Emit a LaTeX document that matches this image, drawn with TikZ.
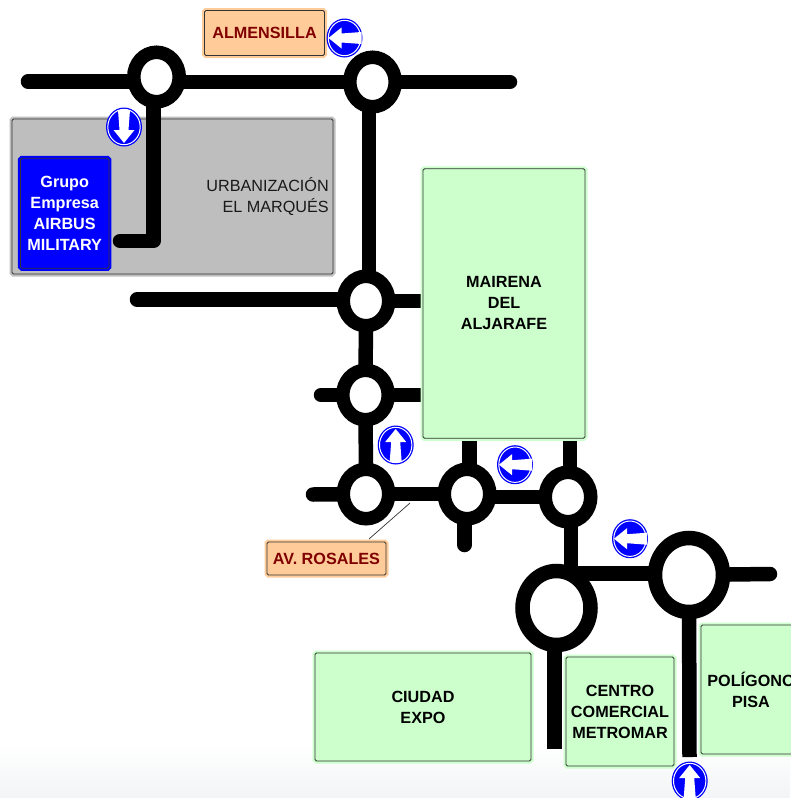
\documentclass[tikz,border=0pt]{standalone}
\usepackage{fontspec}
\setmainfont{Liberation Sans}
\usetikzlibrary{shapes.geometric}
\pgfdeclarelayer{greylayer}
\pgfdeclarelayer{roadlayer}
\pgfsetlayers{greylayer,roadlayer,main}
\definecolor{halo}{HTML}{CCFFCC}
\definecolor{peachc}{HTML}{FFCC99}
\definecolor{greyc}{HTML}{BEBEBE}
\definecolor{darkred}{HTML}{800000}
\definecolor{signblue}{HTML}{0000FF}
\definecolor{fadec}{HTML}{F2F4F5}
\tikzset{
  x=1pt,y=-1pt,
  txt/.style={font=\fontsize{16.2}{21}\selectfont,align=center,inner sep=0pt},
  boxed/.style args={#1/#2}{rectangle,draw=black!80,line width=0.8pt,fill=#1,
    rounded corners=1.5pt,inner sep=0pt,outer sep=0pt,align=center,
    font=\bfseries\fontsize{16.2}{21}\selectfont,
    preaction={draw=#2,line width=5pt,rounded corners=0pt}},
  greenbox/.style={boxed={halo/halo},text=black},
  orangebox/.style={boxed={peachc/peachc},text=darkred},
  bluebox/.style={boxed={signblue/signblue},text=white},
  greybox/.style={boxed={greyc/greyc}},
  round/.style={ellipse,draw=black,fill=white,line width=13.5pt,inner sep=0pt,outer sep=0pt,
     minimum width=45.5pt,minimum height=49.5pt},
  biground/.style={round,line width=14.5pt,minimum width=68pt,minimum height=74pt},
  road/.style={draw=black,line width=14.5pt},
  roadend/.style={road,line cap=round},
  roadsign/.pic={
    \fill[signblue] (0,0) ellipse [x radius=18,y radius=19.5];
    \draw[white,line width=1pt] (0,0) ellipse [x radius=16.2,y radius=17.7];
    \fill[white,rotate=#1] (-16,0) -- (-3,-10.5) -- (-3,-4.5) -- (17,-6) -- (17,6) -- (-3,4.5) -- (-3,10.5) -- cycle;
  },
}
\begin{document}
\begin{tikzpicture}
\useasboundingbox (0,0) rectangle (790,798);

% areas
\begin{pgfonlayer}{greylayer}
  \shade[top color=white,bottom color=fadec] (0,745) rectangle (790,798);
  \node[greybox,minimum width=321pt,minimum height=155pt] (marques) at (172.5,196.5) {};
\end{pgfonlayer}
\node[txt,align=right,anchor=east,text=black!90] (marqueslabel) at (329,197) {URBANIZACIÓN\\EL MARQUÉS};
\node[bluebox,minimum width=88.5pt,minimum height=110pt] (airbus) at (64.7,213.3) {Grupo\\Empresa\\AIRBUS\\MILITARY};
\node[orangebox,minimum width=120pt,minimum height=45pt] (almensilla) at (264.5,33) {ALMENSILLA};
\node[greenbox,minimum width=162pt,minimum height=269.5pt] (mairena) at (504,303.5) {MAIRENA\\DEL\\ALJARAFE};
\node[orangebox,minimum width=119pt,minimum height=33pt] (rosales) at (326.5,558.5) {AV. ROSALES};
\node[greenbox,minimum width=216pt,minimum height=108pt] (expo) at (423,707) {CIUDAD\\EXPO};
\node[greenbox,minimum width=108pt,minimum height=109pt] (metromar) at (620,711.5) {CENTRO\\COMERCIAL\\METROMAR};
\node[greenbox,minimum width=100pt,minimum height=129pt] (pisa) at (751,689.5) {POLÍGONO\\PISA};

% roundabouts
\node[round] (r1) at (156.5,77) {};
\node[round] (r2) at (372.5,82) {};
\node[round] (r3) at (366,301) {};
\node[round] (r4) at (365.5,395) {};
\node[round] (r5) at (366,494) {};
\node[round] (r6) at (467,494) {};
\node[round] (r7) at (568,497) {};
\node[biground] (r8) at (556.5,608) {};
\node[biground] (r9) at (689,575) {};

% free road ends
\coordinate (w1) at (28,81.5);
\coordinate (e2) at (510,82);
\coordinate (elbow) at (153.5,241);
\coordinate (toairbus) at (120,241);
\coordinate (w3) at (137,299.5);
\coordinate (w4) at (321,395);
\coordinate (w5) at (313,494.5);
\coordinate (s6) at (464.5,545);
\coordinate (e9) at (770,574);
\coordinate (s8) at (554.5,749);
\coordinate (s9) at (689.5,757);
\coordinate (leaderend) at (410,503);

\begin{pgfonlayer}{roadlayer}
  \draw[roadend] (w1) -- (w1 -| r1.center);
  \draw[road] ([yshift=-5pt]r1.center) -- (r2.center);
  \draw[roadend] (r2.center) -- (e2);
  \draw[roadend,line join=round] (r1.center -| elbow) -- (elbow) -- (toairbus);
  \draw[road] ([xshift=-3.5pt]r2.center) -- ([xshift=3pt]r3.center);
  \draw[roadend] (w3) -- (w3 -| r3.center);
  \draw[road] (r3.center) -- (mairena.west |- r3.center);
  \draw[road] (r3.center) -- (r4.center);
  \draw[roadend] (w4) -- (r4.center);
  \draw[road] (r4.center) -- (mairena.west |- r4.center);
  \draw[road] (r4.center) -- (r5.center);
  \draw[roadend] (w5) -- (r5.center);
  \draw[road] (r5.center) -- (r6.center);
  \draw[road] ([yshift=-3pt]r6.center) -- (r7.center);
  \draw[road] ([xshift=2.5pt]r6.center) -- ([xshift=2.5pt]r6.center |- mairena.south);
  \draw[roadend] ([xshift=-2.5pt]r6.center) -- (s6);
  \draw[road] ([xshift=2pt]r7.center) -- ([xshift=2pt]r7.center |- mairena.south);
  \draw[road] ([xshift=3pt]r7.center) -- ([xshift=3pt]r7.center |- r8.center);
  \draw[road] ([yshift=34.5pt]r8.center) -- ([yshift=1.5pt]r9.center);
  \draw[roadend] (r9.center) -- (e9);
  \draw[road] ([xshift=-2pt]r8.center) -- (s8);
  \draw[road] (r9.center) -- (s9);
\end{pgfonlayer}
\draw[black!80,line width=0.7pt] (369,539) -- (leaderend);

% direction signs
\pic at (344.5,38) {roadsign=0};
\pic at (124,127) {roadsign=90};
\pic at (395.7,445) {roadsign=270};
\pic at (515,464.7) {roadsign=0};
\pic at (630,538.7) {roadsign=0};
\pic at (689.7,781) {roadsign=270};
\end{tikzpicture}
\end{document}
